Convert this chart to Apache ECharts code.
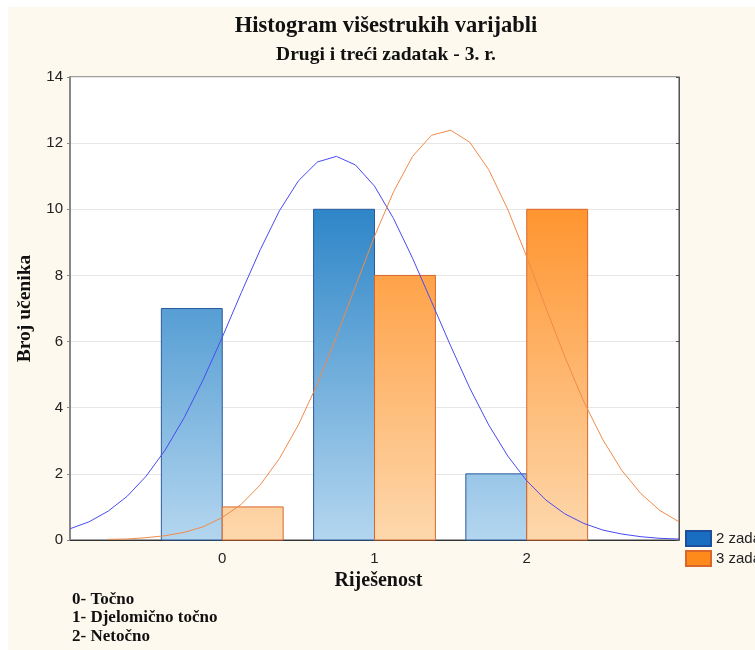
<!DOCTYPE html>
<html>
<head>
<meta charset="utf-8">
<title>Histogram višestrukih varijabli</title>
<script src="https://cdn.jsdelivr.net/npm/echarts@6/dist/echarts.min.js"></script>
</head>
<body style="margin:0;background:#fff">
<div id="main" style="width:755px;height:650px;"></div>
<script>
// kategorije rješenosti i broj učenika po zadatku
var categories = [0, 1, 2];
var zad2 = [7, 10, 2];
var zad3 = [1, 8, 10];

// normalne krivulje, očitane sa slike u koracima od 0.125
var curveX = [-1, -0.875, -0.75, -0.625, -0.5, -0.375, -0.25, -0.125, 0, 0.125, 0.25, 0.375, 0.5, 0.625, 0.75, 0.875,
	1, 1.125, 1.25, 1.375, 1.5, 1.625, 1.75, 1.875, 2, 2.125, 2.25, 2.375, 2.5, 2.625, 2.75, 2.875, 3];
var curve2 = [0.34, 0.55, 0.87, 1.32, 1.93, 2.72, 3.7, 4.85, 6.13, 7.48, 8.78, 9.95, 10.86, 11.43, 11.6, 11.34,
	10.7, 9.72, 8.52, 7.2, 5.87, 4.6, 3.48, 2.54, 1.79, 1.21, 0.79, 0.5, 0.3, 0.18, 0.1, 0.05, 0.03];
var curve3 = [null, null, 0.02, 0.03, 0.07, 0.13, 0.23, 0.4, 0.68, 1.08, 1.67, 2.46, 3.48, 4.72, 6.15, 7.67,
	9.18, 10.53, 11.6, 12.24, 12.39, 12.03, 11.2, 10.0, 8.56, 7.03, 5.54, 4.18, 3.03, 2.1, 1.4, 0.89, 0.55];

var yTicks = [0, 14, 2];
var xLabels = ['0', '1', '2'];

var chart = echarts.init(document.getElementById('main'));

function pairs(xs, ys) {
	var res = [];
	for (var i = 0; i < xs.length; i++) {
		res.push([xs[i], ys[i]]);
	}
	return res;
}

// stupci s gradijentom koji ide od vrijednosti 10 do 0
function barRenderer(offset, topColor, bottomColor, border) {
	return function (params, api) {
		var x = api.value(0), v = api.value(1);
		var p0 = api.coord([x + offset, v]);
		var p1 = api.coord([x + offset + 0.4, 0]);
		var g10 = api.coord([0, 10])[1];
		var g0 = api.coord([0, 0])[1];
		return {
			type: 'rect',
			shape: { x: p0[0], y: p0[1], width: p1[0] - p0[0], height: p1[1] - p0[1] },
			style: {
				fill: {
					type: 'linear', x: 0, y: g10, x2: 0, y2: g0, global: true,
					colorStops: [{ offset: 0, color: topColor }, { offset: 1, color: bottomColor }]
				},
				stroke: border,
				lineWidth: 1
			}
		};
	};
}

var serif = '"Liberation Serif", "Times New Roman", serif';
var sans = 'Arial, "Liberation Sans", sans-serif';

var option = {
	backgroundColor: '#fff',
	animation: false,
	graphic: [{
		type: 'rect',
		left: 8, top: 7, z: -10,
		shape: { width: 747, height: 643 },
		style: { fill: '#fef9ef' }
	}, {
		type: 'text',
		left: 72, top: 590,
		style: {
			text: '0- Točno\n1- Djelomično točno\n2- Netočno',
			font: 'bold 17px ' + serif,
			lineHeight: 18.5,
			fill: '#111'
		}
	}],
	title: {
		text: 'Histogram višestrukih varijabli',
		subtext: 'Drugi i treći zadatak - 3. r.',
		left: 386,
		textAlign: 'center',
		top: 15,
		padding: 0,
		itemGap: 7,
		textStyle: { fontFamily: serif, fontSize: 22.5, fontWeight: 'bold', color: '#111' },
		subtextStyle: { fontFamily: serif, fontSize: 19.5, fontWeight: 'bold', color: '#111' }
	},
	legend: {
		data: ['2 zadatak', '3 zadatak'],
		orient: 'vertical',
		left: 680,
		top: 525,
		itemWidth: 25,
		itemHeight: 15,
		itemGap: 3,
		icon: 'rect',
		textStyle: { fontFamily: sans, fontSize: 15, color: '#222' }
	},
	grid: {
		left: 70, top: 77, right: 76, bottom: 110,
		show: true,
		backgroundColor: '#fff',
		borderColor: '#444',
		borderWidth: 1
	},
	xAxis: {
		type: 'value',
		min: -1, max: 3, interval: 1,
		name: 'Riješenost',
		nameLocation: 'middle',
		nameGap: 27,
		nameTextStyle: { fontFamily: serif, fontSize: 20, fontWeight: 'bold', color: '#111', padding: [0, 0, 0, 8] },
		axisLine: { show: true, lineStyle: { color: '#333', width: 1 } },
		axisTick: { show: false },
		splitLine: { show: false },
		axisLabel: {
			margin: 11,
			fontFamily: sans, fontSize: 15, color: '#222',
			formatter: function (v) {
				var i = categories.indexOf(v);
				return i >= 0 ? xLabels[i] : '';
			}
		}
	},
	yAxis: [{
		type: 'value',
		min: yTicks[0], max: yTicks[1], interval: yTicks[2],
		name: 'Broj učenika',
		nameLocation: 'middle',
		nameGap: 31,
		nameTextStyle: { fontFamily: serif, fontSize: 19.5, fontWeight: 'bold', color: '#111' },
		axisLine: { show: true, onZero: false, lineStyle: { color: '#888', width: 2 } },
		axisTick: { show: true, length: 3, lineStyle: { color: '#888' } },
		axisLabel: { margin: 7, fontFamily: sans, fontSize: 15, color: '#222' },
		splitLine: { show: true, lineStyle: { color: '#e6e6e6', width: 1 } }
	}, {
		type: 'value',
		position: 'right',
		min: yTicks[0], max: yTicks[1], interval: yTicks[2],
		axisLine: { show: true, onZero: false, lineStyle: { color: '#555', width: 1 } },
		axisTick: { show: true, inside: true, length: 3, lineStyle: { color: '#555' } },
		axisLabel: { show: false },
		splitLine: { show: false }
	}],
	series: [{
		name: '2 zadatak',
		type: 'custom',
		renderItem: barRenderer(-0.4, '#2e86c8', '#b4d6ef', '#2b5a9e'),
		encode: { x: 0, y: 1 },
		itemStyle: { color: '#1a6ec2', borderColor: '#1c4f9c', borderWidth: 1 },
		data: pairs(categories, zad2),
		z: 2
	}, {
		name: '3 zadatak',
		type: 'custom',
		renderItem: barRenderer(0, '#ff9530', '#fdd8ad', '#d9672b'),
		encode: { x: 0, y: 1 },
		itemStyle: { color: '#ff8a1c', borderColor: '#d9672b', borderWidth: 1 },
		data: pairs(categories, zad3),
		z: 2
	}, {
		name: 'krivulja 2',
		type: 'line',
		smooth: false,
		showSymbol: false,
		data: pairs(curveX, curve2),
		lineStyle: { color: '#4a4af2', width: 1 },
		z: 5
	}, {
		name: 'krivulja 3',
		type: 'line',
		smooth: false,
		showSymbol: false,
		data: pairs(curveX, curve3),
		lineStyle: { color: '#f08a4a', width: 1 },
		z: 5
	}]
};

chart.setOption(option);
</script>
</body>
</html>
